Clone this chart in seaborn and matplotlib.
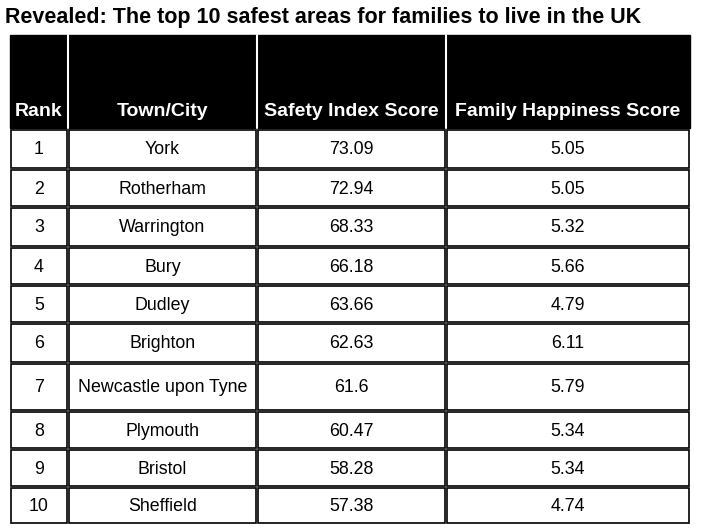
import matplotlib
matplotlib.use("Agg")
import matplotlib.pyplot as plt
import seaborn as sns
from matplotlib.patches import Rectangle

sns.set_theme(style="white")
plt.rcParams['font.family'] = ['Liberation Sans', 'DejaVu Sans']
plt.rcParams['text.color'] = 'black'

title = "Revealed: The top 10 safest areas for families to live in the UK"
headers = ["Rank", "Town/City", "Safety Index Score", "Family Happiness Score"]
ranks = [1, 2, 3, 4, 5, 6, 7, 8, 9, 10]
towns = ["York", "Rotherham", "Warrington", "Bury", "Dudley", "Brighton",
         "Newcastle upon Tyne", "Plymouth", "Bristol", "Sheffield"]
safety = ["73.09", "72.94", "68.33", "66.18", "63.66", "62.63", "61.6", "60.47", "58.28", "57.38"]
happiness = ["5.05", "5.05", "5.32", "5.66", "4.79", "6.11", "5.79", "5.34", "5.34", "4.74"]

fig = plt.figure(figsize=(7.02, 5.30), dpi=100)
ax = fig.add_axes([0, 0, 1, 1])
ax.set_xlim(0, 702); ax.set_ylim(530, 0); ax.axis("off")

colx = [10, 68, 257, 446, 690]
rows = [(130, 168), (170, 206), (208, 246), (248, 284), (286, 322),
        (324, 362), (364, 410), (412, 448), (450, 486), (488, 523)]

ax.text(5, 18, title, fontsize=15.5, fontweight="bold", va="center", ha="left", color="black")
ax.add_patch(Rectangle((colx[0], 35), colx[-1] - colx[0], 93, color="black"))
for i, h in enumerate(headers):
    if i > 0:
        ax.plot([colx[i], colx[i]], [35, 128], color="white", lw=1.5)
    ax.text((colx[i] + colx[i + 1]) / 2, 111, h, color="white", fontsize=14,
            fontweight="bold", ha="center", va="center")

for r, (y0, y1) in enumerate(rows):
    vals = [str(ranks[r]), towns[r], safety[r], happiness[r]]
    for c in range(4):
        x0, x1 = colx[c] + 1, colx[c + 1] - 1
        ax.add_patch(Rectangle((x0, y0), x1 - x0, y1 - y0, fill=False, ec="black", lw=1.2))
        ax.text((x0 + x1) / 2, (y0 + y1) / 2 + 1, vals[c], fontsize=12.8,
                ha="center", va="center", color="black")

fig.savefig("out.png", dpi=100, facecolor="white")
